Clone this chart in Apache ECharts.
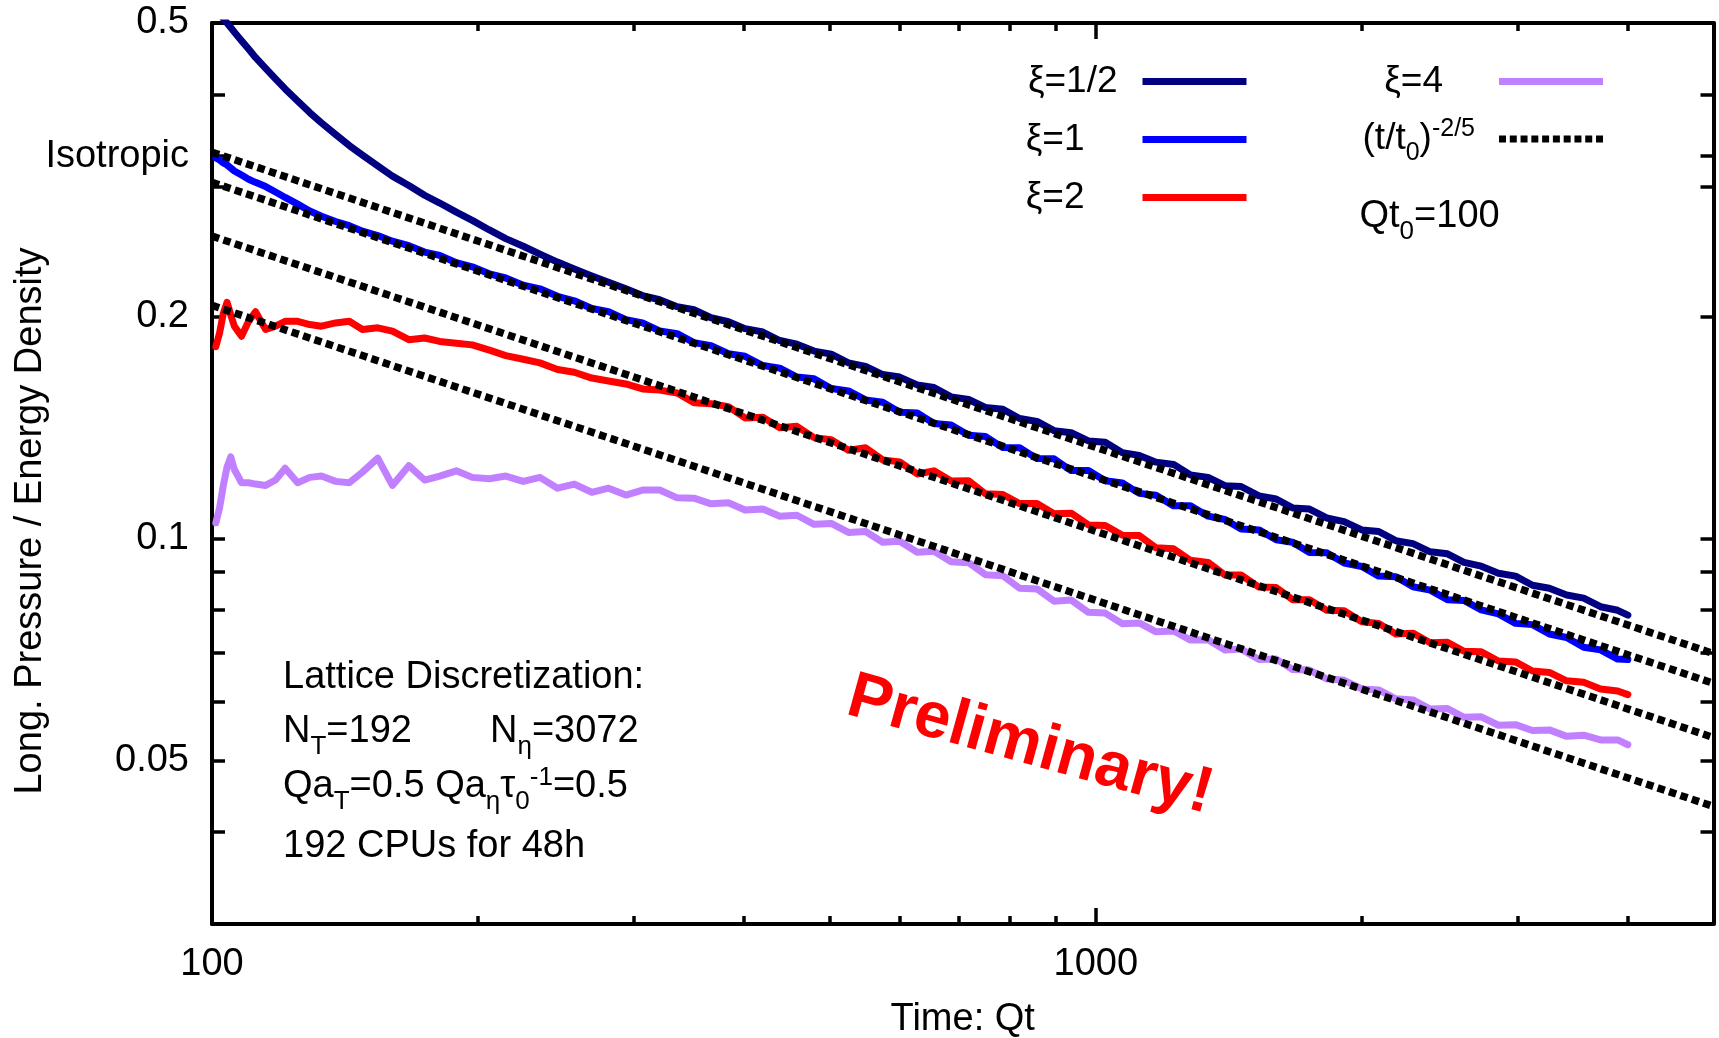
<!DOCTYPE html>
<html>
<head>
<meta charset="utf-8">
<script src="https://cdn.jsdelivr.net/npm/echarts@6/dist/echarts.min.js"></script>
<style>
  html, body { margin: 0; padding: 0; background: #ffffff; }
  #chart { width: 1719px; height: 1038px; }
</style>
</head>
<body>
<div id="chart"></div>
<script>
// Simulation times Qt (shared by all four runs)
const times = [
  101, 102, 103, 104, 105, 106, 108, 110, 112, 115,
  118, 121, 125, 129, 133, 138, 143, 148, 154, 160,
  167, 174, 181, 189, 197,
  206, 215, 225, 235, 246, 257, 269, 281, 294, 307,
  321, 336, 351, 367, 384, 401, 420, 439, 459, 480,
  502, 525, 549, 574, 600, 628, 656, 686, 718, 750,
  785, 820, 858, 897, 938, 981,
  1025, 1072, 1120, 1170, 1225, 1280, 1340, 1400, 1460, 1530,
  1600, 1670, 1745, 1825, 1910, 2000, 2090, 2185, 2285, 2390,
  2500, 2610, 2730, 2855, 2985, 3120, 3260, 3410, 3565, 3725,
  3895, 4000
];

// Longitudinal pressure / energy density, xi = 1/2
const xiHalf = [
  0.523, 0.515, 0.507, 0.500, 0.493, 0.486, 0.473, 0.461, 0.449, 0.434,
  0.420, 0.407, 0.392, 0.378, 0.366, 0.353, 0.341, 0.331, 0.320, 0.310,
  0.301, 0.292, 0.285, 0.277, 0.270,
  0.262, 0.255, 0.249, 0.243, 0.237, 0.232, 0.227, 0.2225, 0.218, 0.2135,
  0.2107, 0.2062, 0.2042, 0.1992, 0.1967, 0.1925, 0.1905, 0.1855, 0.1834, 0.1795,
  0.1778, 0.1730, 0.1711, 0.1668, 0.1655, 0.1615, 0.1602, 0.1556, 0.1543, 0.1505,
  0.1497, 0.1454, 0.1441, 0.1400, 0.1391, 0.1356,
  0.1350, 0.1307, 0.1296, 0.1269, 0.1260, 0.1219, 0.1210, 0.1179, 0.1176, 0.1142,
  0.1131, 0.1100, 0.1096, 0.1066, 0.1054, 0.1027, 0.1022, 0.0993, 0.0984, 0.0959,
  0.0953, 0.0928, 0.0917, 0.0897, 0.0889, 0.0864, 0.0856, 0.0838, 0.0830, 0.0808,
  0.0799, 0.0787
];

// xi = 1
const xiOne = [
  0.328, 0.326, 0.323, 0.321, 0.318, 0.315, 0.311, 0.307, 0.304, 0.300,
  0.295, 0.290, 0.284, 0.278, 0.2735, 0.2690, 0.2655, 0.2610, 0.2575, 0.2530,
  0.2495, 0.2445, 0.2420, 0.2365, 0.2335,
  0.2285, 0.2255, 0.2205, 0.2180, 0.2130, 0.2100, 0.2050, 0.2030, 0.1980, 0.1960,
  0.1912, 0.1895, 0.1843, 0.1826, 0.1780, 0.1766, 0.1716, 0.1702, 0.1655, 0.1646,
  0.1597, 0.1585, 0.1541, 0.1530, 0.1483, 0.1480, 0.1432, 0.1425, 0.1380, 0.1375,
  0.1328, 0.1327, 0.1283, 0.1282, 0.1236, 0.1236,
  0.1197, 0.1189, 0.1151, 0.1144, 0.1107, 0.1107, 0.1072, 0.1061, 0.1030, 0.1027,
  0.0996, 0.0988, 0.0957, 0.0956, 0.0926, 0.0916, 0.0889, 0.0887, 0.0860, 0.0851,
  0.0826, 0.0824, 0.0800, 0.0790, 0.0767, 0.0764, 0.0742, 0.0734, 0.0712, 0.0706,
  0.0686, 0.0685
];

// xi = 2
const xiTwo = [
  0.182, 0.190, 0.202, 0.209, 0.201, 0.194, 0.188, 0.197, 0.203, 0.192,
  0.194, 0.197, 0.197, 0.195, 0.194, 0.196, 0.197, 0.192, 0.193, 0.191,
  0.186, 0.187, 0.185, 0.184, 0.183,
  0.180, 0.177, 0.175, 0.173, 0.1695, 0.168, 0.165, 0.1635, 0.162, 0.1595,
  0.1589, 0.1575, 0.1528, 0.1523, 0.1509, 0.1457, 0.1460, 0.1413, 0.1419, 0.1370,
  0.1361, 0.1317, 0.1327, 0.1278, 0.1270, 0.1223, 0.1235, 0.1196, 0.1197, 0.1150,
  0.1147, 0.1115, 0.1115, 0.1080, 0.1082, 0.1043,
  0.1041, 0.1010, 0.1009, 0.0971, 0.0968, 0.0934, 0.0928, 0.0892, 0.0892, 0.0859,
  0.0858, 0.0826, 0.0826, 0.0799, 0.0798, 0.0771, 0.0767, 0.0742, 0.0744, 0.0722,
  0.0723, 0.0703, 0.0702, 0.0682, 0.0680, 0.0661, 0.0658, 0.0641, 0.0638, 0.0625,
  0.0621, 0.0614
];

// xi = 4
const xiFour = [
  0.105, 0.110, 0.118, 0.125, 0.129, 0.124, 0.119, 0.119, 0.1185, 0.118,
  0.120, 0.1245, 0.119, 0.121, 0.1215, 0.1195, 0.119, 0.123, 0.1285, 0.118,
  0.1255, 0.120, 0.1215, 0.1235, 0.121,
  0.1205, 0.1215, 0.1195, 0.121, 0.117, 0.1185, 0.1155, 0.117, 0.1145, 0.1163,
  0.1163, 0.1135, 0.1134, 0.1114, 0.1118, 0.1093, 0.1096, 0.1072, 0.1075, 0.1045,
  0.1048, 0.1019, 0.1022, 0.0988, 0.0991, 0.0958, 0.0961, 0.0930, 0.0927, 0.0893,
  0.0890, 0.0856, 0.0854, 0.0822, 0.0825, 0.0794,
  0.0792, 0.0766, 0.0768, 0.0747, 0.0749, 0.0728, 0.0729, 0.0706, 0.0708, 0.0685,
  0.0686, 0.0664, 0.0663, 0.0645, 0.0642, 0.0625, 0.0623, 0.0606, 0.0604, 0.0587,
  0.0588, 0.0572, 0.0573, 0.0558, 0.0559, 0.0549, 0.0550, 0.0539, 0.0541, 0.0533,
  0.0533, 0.0525
];

// (t/t0)^(-2/5) reference lines, end points at Qt = 100 and Qt = 5000
const powerLawA = [[100, 0.334], [5000, 0.0698]];
const powerLawB = [[100, 0.304], [5000, 0.0636]];
const powerLawC = [[100, 0.257], [5000, 0.0537]];
const powerLawD = [[100, 0.207], [5000, 0.0433]];

// Axis ticks and labels
const xLabelValues = [100, 1000];
const xMajorTicks = [1000];
const xMinorTicks = [200, 300, 400, 500, 600, 700, 800, 900, 2000, 3000, 4000];
const yLabelValues = [0.05, 0.1, 0.2, 0.33, 0.5];
const yLabelTexts = ['0.05', '0.1', '0.2', 'Isotropic', '0.5'];
const yTickValues = [0.04, 0.05, 0.06, 0.07, 0.08, 0.09, 0.1, 0.2, 0.3, 0.33, 0.4];

const POWER_NAME = '(t/t0)^-2/5';
const FONT = 'Liberation Sans, Arial, sans-serif';
const BLACK = '#000000';
const COLORS = { half: '#000080', one: '#0000ff', two: '#ff0000', four: '#c080ff' };
const TEXT_SIZE = 38;

function pairs(vals) {
  return times.map(function (t, i) { return [t, vals[i]]; });
}

const tickLine = { color: BLACK, width: 3.5 };
const axisLine = { show: true, onZero: false, lineStyle: { color: BLACK, width: 4 } };

function xAxisDef(position, ticks, len, withLabels, showLine) {
  const a = {
    type: 'log', logBase: 10, min: 100, max: 5000, position: position,
    splitLine: { show: false },
    axisLine: showLine ? axisLine : { show: false },
    axisTick: { show: true, inside: true, length: len, customValues: ticks, lineStyle: tickLine },
    axisLabel: { show: false }
  };
  if (withLabels) {
    a.axisLabel = {
      show: true, customValues: xLabelValues, margin: 22,
      fontSize: TEXT_SIZE, fontFamily: FONT, color: BLACK,
      formatter: function (v) { return String(Math.round(v)); }
    };
    a.name = 'Time: Qt';
    a.nameLocation = 'middle';
    a.nameGap = 77;
    a.nameTextStyle = { fontSize: TEXT_SIZE, fontFamily: FONT, color: BLACK };
  }
  return a;
}

function yAxisDef(position, withLabels) {
  const a = {
    type: 'log', logBase: 10, min: 0.03, max: 0.5, position: position,
    splitLine: { show: false },
    axisLine: axisLine,
    axisTick: { show: true, inside: true, length: 13, customValues: yTickValues, lineStyle: tickLine },
    axisLabel: { show: false }
  };
  if (withLabels) {
    a.axisLabel = {
      show: true, customValues: yLabelValues, margin: 23,
      fontSize: TEXT_SIZE, fontFamily: FONT, color: BLACK,
      formatter: function (v) {
        for (let i = 0; i < yLabelValues.length; i++) {
          if (Math.abs(yLabelValues[i] - v) / yLabelValues[i] < 1e-6) return yLabelTexts[i];
        }
        return '';
      }
    };
  }
  return a;
}

function curve(name, vals, color) {
  return {
    name: name, type: 'line', data: pairs(vals),
    symbol: 'none', showSymbol: false, clip: true, color: color,
    lineStyle: { width: 7, color: color, join: 'round', cap: 'round' },
    z: 2
  };
}

function powerLine(vals) {
  return {
    name: POWER_NAME, type: 'line', data: vals,
    symbol: 'none', showSymbol: false, clip: true, color: BLACK,
    lineStyle: { width: 7.5, color: BLACK, type: [7.5, 4.5], cap: 'butt' },
    z: 3
  };
}

// Rich text styles for the legend: normal, subscript and superscript
const legendRich = {
  n: { fontSize: 37, lineHeight: 44, fontFamily: FONT, color: BLACK },
  sb: { fontSize: 25, lineHeight: 25, verticalAlign: 'top', padding: [24, 0, 0, 0], fontFamily: FONT, color: BLACK },
  n20: { fontSize: 37, lineHeight: 44, fontFamily: FONT, color: BLACK, padding: [0, 20, 0, 0] },
  n53: { fontSize: 37, lineHeight: 44, fontFamily: FONT, color: BLACK, padding: [0, 53, 0, 0] },
  n51: { fontSize: 37, lineHeight: 44, fontFamily: FONT, color: BLACK, padding: [0, 51, 0, 0] },
  sp19: { fontSize: 25, lineHeight: 25, verticalAlign: 'top', fontFamily: FONT, color: BLACK, padding: [0, 19, 0, 0] }
};

// Rich text styles for the annotations
const noteRich = {
  n: { fontSize: TEXT_SIZE, lineHeight: 45, fontFamily: FONT, color: BLACK },
  sb: { fontSize: 26, lineHeight: 26, verticalAlign: 'top', padding: [24, 0, 0, 0], fontFamily: FONT, color: BLACK },
  sp: { fontSize: 26, lineHeight: 26, verticalAlign: 'top', fontFamily: FONT, color: BLACK }
};

const legendText = {
  'ξ=1/2': '{n20|ξ=1/2}',
  'ξ=1': '{n53|ξ=1}',
  'ξ=2': '{n53|ξ=2}',
  'ξ=4': '{n51|ξ=4}'
};
legendText[POWER_NAME] = '{n|(t/t}{sb|0}{n|)}{sp19|-2/5}';

const dottedIcon = 'path://M0,0h7v7h-7z M10.8,0h7v7h-7z M21.6,0h7v7h-7z M32.4,0h7v7h-7z M43.2,0h7v7h-7z ' +
  'M54,0h7v7h-7z M64.8,0h7v7h-7z M75.6,0h7v7h-7z M86.4,0h7v7h-7z M97.2,0h7v7h-7z';

function legendDef(items, right, gap) {
  return {
    data: items, orient: 'vertical', align: 'right',
    right: right, top: 63, padding: 0, itemGap: gap,
    itemWidth: 104, itemHeight: 7, selectedMode: false,
    itemStyle: { borderWidth: 0 },
    formatter: function (name) { return legendText[name]; },
    textStyle: { fontSize: 37, fontFamily: FONT, color: BLACK, rich: legendRich }
  };
}

const chart = echarts.init(document.getElementById('chart'), null, { renderer: 'canvas' });

chart.setOption({
  animation: false,
  backgroundColor: '#ffffff',
  textStyle: { fontFamily: FONT, color: BLACK },
  grid: { left: 212, right: 5.5, top: 23, bottom: 114, containLabel: false, outerBoundsMode: 'none' },
  xAxis: [
    xAxisDef('bottom', xMajorTicks, 16, true, true),
    xAxisDef('bottom', xMinorTicks, 8, false, false),
    xAxisDef('top', xMajorTicks, 16, false, true),
    xAxisDef('top', xMinorTicks, 8, false, false)
  ],
  yAxis: [
    yAxisDef('left', true),
    yAxisDef('right', false)
  ],
  legend: [
    legendDef([
      { name: 'ξ=1/2', icon: 'rect', itemStyle: { color: COLORS.half, borderWidth: 0 } },
      { name: 'ξ=1', icon: 'rect', itemStyle: { color: COLORS.one, borderWidth: 0 } },
      { name: 'ξ=2', icon: 'rect', itemStyle: { color: COLORS.two, borderWidth: 0 } }
    ], 472.5, 21),
    legendDef([
      { name: 'ξ=4', icon: 'rect', itemStyle: { color: COLORS.four, borderWidth: 0 } },
      { name: POWER_NAME, icon: dottedIcon, itemStyle: { color: BLACK, borderWidth: 0 } }
    ], 116, 17)
  ],
  series: [
    curve('ξ=1/2', xiHalf, COLORS.half),
    curve('ξ=1', xiOne, COLORS.one),
    curve('ξ=2', xiTwo, COLORS.two),
    curve('ξ=4', xiFour, COLORS.four),
    powerLine(powerLawA),
    powerLine(powerLawB),
    powerLine(powerLawC),
    powerLine(powerLawD)
  ],
  graphic: [
    {
      type: 'text', x: 31, y: 521, rotation: Math.PI / 2,
      style: { text: 'Long. Pressure / Energy Density', fontSize: TEXT_SIZE, fontFamily: FONT, fill: BLACK, align: 'center', verticalAlign: 'middle' }
    },
    {
      type: 'text', x: 1359.5, y: 217,
      style: { text: '{n|Qt}{sb|0}{n|=100}', rich: noteRich, fill: BLACK, align: 'left', verticalAlign: 'middle' }
    },
    {
      type: 'text', x: 283, y: 677.5,
      style: { text: 'Lattice Discretization:', fontSize: TEXT_SIZE, fontFamily: FONT, fill: BLACK, align: 'left', verticalAlign: 'middle' }
    },
    {
      type: 'text', x: 283, y: 732,
      style: { text: '{n|N}{sb|T}{n|=192}', rich: noteRich, fill: BLACK, align: 'left', verticalAlign: 'middle' }
    },
    {
      type: 'text', x: 490, y: 732,
      style: { text: '{n|N}{sb|η}{n|=3072}', rich: noteRich, fill: BLACK, align: 'left', verticalAlign: 'middle' }
    },
    {
      type: 'text', x: 283, y: 787,
      style: { text: '{n|Qa}{sb|T}{n|=0.5 Qa}{sb|η}{n|τ}{sb|0}{sp|-1}{n|=0.5}', rich: noteRich, fill: BLACK, align: 'left', verticalAlign: 'middle' }
    },
    {
      type: 'text', x: 283, y: 847,
      style: { text: '192 CPUs for 48h', fontSize: TEXT_SIZE, fontFamily: FONT, fill: BLACK, align: 'left', verticalAlign: 'middle' }
    },
    {
      type: 'text', x: 1030, y: 746, rotation: -0.27,
      style: { text: 'Preliminary!', fontSize: 65, fontWeight: 'bold', fontFamily: FONT, fill: '#ff0000', align: 'center', verticalAlign: 'middle' }
    }
  ]
});
</script>
</body>
</html>
